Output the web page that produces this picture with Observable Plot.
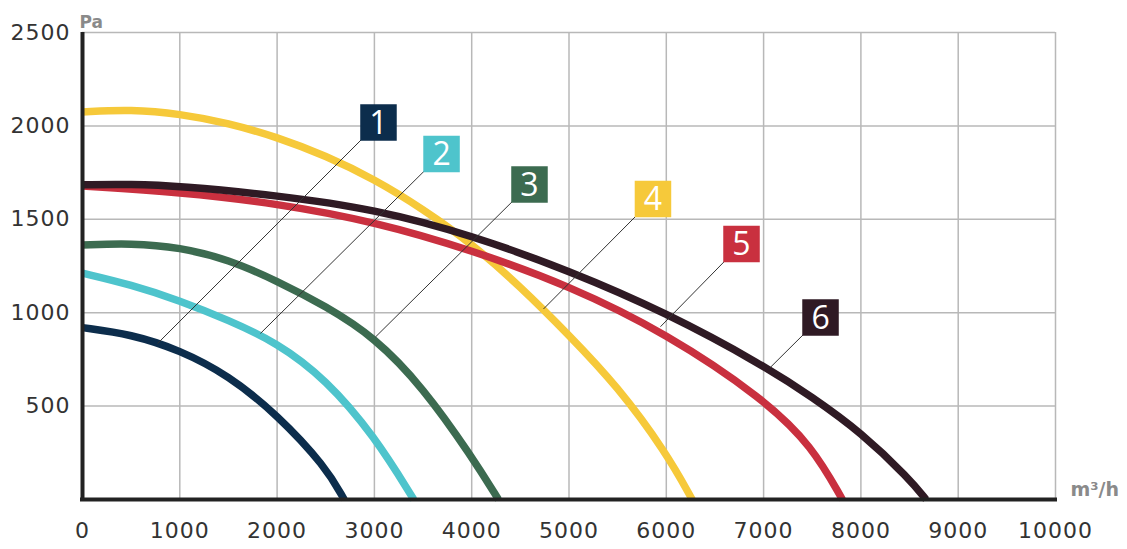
<!DOCTYPE html>
<html><head><meta charset="utf-8">
<script src="https://cdn.jsdelivr.net/npm/d3@7"></script>
<script src="https://cdn.jsdelivr.net/npm/@observablehq/plot@0.6"></script>
<style>
body{margin:0;background:#fff}
#chart{width:1127px;height:549px}
.axis-lab text{letter-spacing:1px}
</style>
</head><body><div id="chart"></div>
<script>
// Series (fan curves), labelled 1..6
const seriesNames = ["1","2","3","4","5","6"];
const seriesColors = ["#0c2d4c","#4ec4cc","#3c6b50","#f6c93a","#c9303f","#2f1a24"];

const flow1 = [0,500,1000,1500,2000,2500,2690];
const pa1   = [920,885,800,665,455,175,0];
const flow2 = [0,500,1000,1500,2000,2500,3000,3405];
const pa2   = [1212,1150,1065,960,840,645,340,0];
const flow3 = [0,500,1000,1500,2000,2500,3000,3500,4000,4275];
const pa3   = [1362,1372,1350,1285,1170,1035,870,600,230,0];
const flow4 = [0,500,1000,1500,2000,2500,3000,3500,4000,4500,5000,5500,6000,6266];
const pa4   = [2075,2088,2065,2015,1940,1840,1715,1555,1370,1140,880,605,250,0];
const flow5 = [0,1000,2000,3000,4000,5000,6000,7000,7500,7810];
const pa5   = [1678,1645,1585,1487,1335,1145,890,540,285,0];
const flow6 = [0,500,1000,2000,3000,4000,5000,6000,7000,7500,8000,8500,8670];
const pa6   = [1685,1688,1678,1628,1555,1415,1225,1000,718,548,360,110,0];

// Number boxes and the points their leader lines touch
const boxFlow = [3042,3690,4594,5863,6773,7585];
const boxPa   = [2018,1850,1686,1609,1368,974];
const leaderFlow = [771,1829,3011,4738,5940,7071];
const leaderPa   = [835,889,870,1020,925,708];

const xTicks = [0,1000,2000,3000,4000,5000,6000,7000,8000,9000,10000];
const yTicks = [500,1000,1500,2000,2500];
const xUnit = "m³/h";
const yUnit = "Pa";

const flows = [flow1,flow2,flow3,flow4,flow5,flow6];
const pas = [pa1,pa2,pa3,pa4,pa5,pa6];
const curveData = seriesNames.flatMap((s,i) => flows[i].map((f,j) => ({series:s, flow:f, pa:pas[i][j]})));
const labelData = seriesNames.map((s,i) => ({series:s, bx:boxFlow[i], by:boxPa[i], lx:leaderFlow[i], ly:leaderPa[i]}));

const font = "DejaVu Sans";
const chart = Plot.plot({
  width: 1127, height: 549,
  marginLeft: 82, marginRight: 72, marginTop: 32, marginBottom: 50,
  style: {fontFamily: font, background: "#fff", overflow: "visible"},
  x: {domain: [0,10000]},
  y: {domain: [0,2500]},
  color: {domain: seriesNames, range: seriesColors},
  marks: [
    Plot.gridX(xTicks.filter(d => d > 0), {stroke: "#b8b8b8", strokeOpacity: 1, strokeWidth: 1.5}),
    Plot.gridY(yTicks, {stroke: "#b8b8b8", strokeOpacity: 1, strokeWidth: 1.5}),
    Plot.line(curveData, {x: "flow", y: "pa", z: "series", stroke: "series", strokeWidth: 7.5, curve: "basis", strokeLinecap: "butt"}),
    Plot.ruleX([0], {stroke: "#222", strokeWidth: 4}),
    Plot.ruleY([0], {stroke: "#222", strokeWidth: 4, strokeLinecap: "square"}),
    Plot.link(labelData, {x1: "lx", y1: "ly", x2: "bx", y2: "by", stroke: "#333", strokeWidth: 1}),
    Plot.dot(labelData, {x: "bx", y: "by", symbol: "square", r: 20.6, fill: "series", stroke: null}),
    Plot.text(labelData, {x: "bx", y: "by", text: "series", fill: "white", fontSize: 32, fontFamily: "Open Sans", dy: 1}),
    Plot.axisX(xTicks, {tickSize: 0, tickPadding: 23, fontSize: 22, fill: "#333", label: null, tickFormat: d => String(d), className: "axis-lab"}),
    Plot.axisY(yTicks, {tickSize: 0, tickPadding: 12, fontSize: 22, fill: "#333", label: null, tickFormat: d => String(d), className: "axis-lab"}),
    Plot.text([yUnit], {frameAnchor: "top-left", dx: -3, dy: -17, text: d => d, textAnchor: "start", fontSize: 17, fontWeight: "bold", fill: "#8a8a8a"}),
    Plot.text([xUnit], {frameAnchor: "bottom-right", dx: 15, dy: -4, text: d => d, textAnchor: "start", fontSize: 19, fontWeight: "bold", fill: "#8a8a8a"})
  ]
});
document.getElementById("chart").appendChild(chart);
</script>
</body></html>
